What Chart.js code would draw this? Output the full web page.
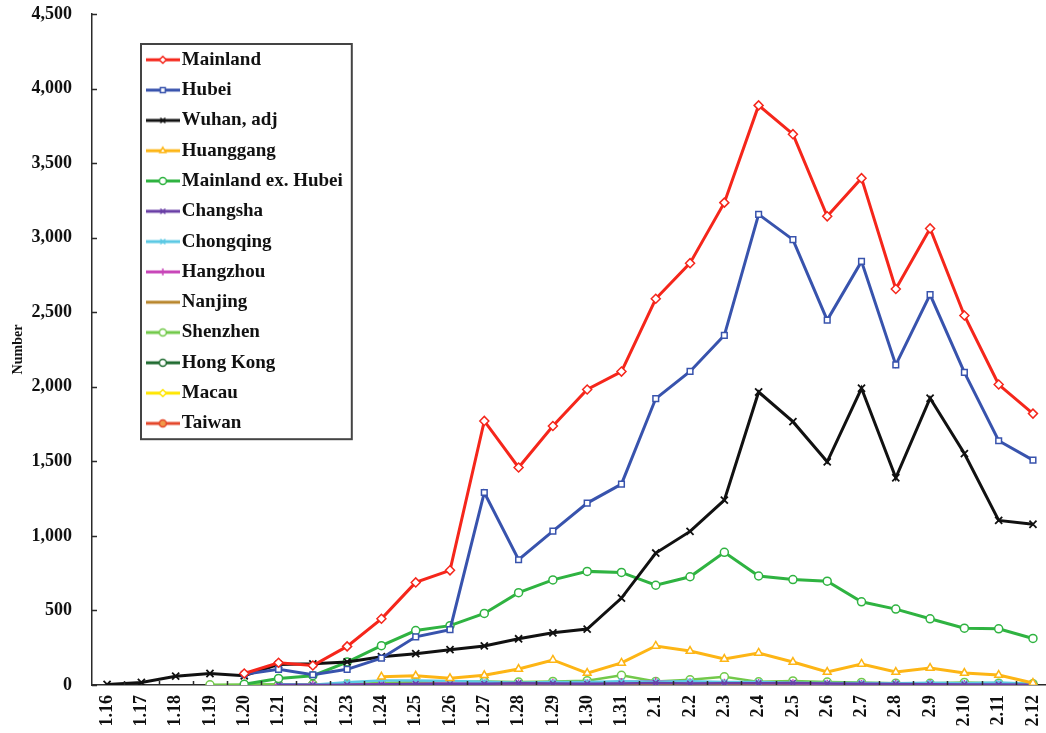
<!DOCTYPE html>
<html>
<head>
<meta charset="utf-8">
<title>Daily new cases</title>
<script src="https://cdn.jsdelivr.net/npm/chart.js"></script>
<style>
  body { margin: 0; background: #fff; overflow: hidden; }
  #chartBox { width: 1046px; height: 733px; }
</style>
</head>
<body>
<div id="chartBox"><canvas id="casesChart" width="1046" height="733"></canvas></div>
<script>
  const dates = ['1.16', '1.17', '1.18', '1.19', '1.20', '1.21', '1.22', '1.23', '1.24', '1.25',
    '1.26', '1.27', '1.28', '1.29', '1.30', '1.31', '2.1', '2.2', '2.3', '2.4', '2.5', '2.6',
    '2.7', '2.8', '2.9', '2.10', '2.11', '2.12'];

  const yTicks = [0, 500, 1000, 1500, 2000, 2500, 3000, 3500, 4000, 4500];

  const mainland = [null, null, null, null, 77, 149, 131, 259, 444, 688, 769, 1771, 1459, 1737,
    1982, 2102, 2590, 2829, 3235, 3887, 3694, 3143, 3399, 2656, 3062, 2478, 2015, 1820];
  const hubei = [null, null, null, null, 72, 105, 69, 105, 180, 323, 371, 1291, 840, 1032,
    1220, 1347, 1921, 2103, 2345, 3156, 2987, 2447, 2841, 2147, 2618, 2097, 1638, 1508];
  const wuhanAdj = [4, 17, 59, 77, 62, 138, 142, 155, 190, 210, 237, 262, 310, 350,
    375, 583, 885, 1030, 1240, 1965, 1766, 1497, 1990, 1390, 1923, 1552, 1104, 1078];
  const huanggang = [null, null, null, null, null, null, null, null, 55, 62, 45, 65, 107, 168,
    80, 148, 262, 228, 174, 215, 154, 87, 141, 87, 114, 80, 67, 13];
  const mainlandExHubei = [null, null, null, null, 5, 44, 62, 154, 264, 365, 398, 480, 619, 705,
    762, 755, 669, 726, 890, 731, 707, 696, 558, 509, 444, 381, 377, 312];
  const changsha = [null, null, null, null, null, 1, 0, 1, 3, 7, 6, 8, 12, 10,
    8, 10, 14, 10, 11, 12, 14, 10, 8, 6, 5, 4, 3, 2];
  const chongqing = [null, null, null, null, null, 5, 1, 18, 30, 30, 27, 22, 15, 20,
    20, 25, 22, 25, 20, 20, 15, 13, 14, 12, 15, 12, 16, 8];
  const hangzhou = [null, null, null, null, null, 2, 3, 2, 5, 6, 12, 10, 12, 15,
    12, 20, 25, 18, 15, 13, 12, 8, 7, 10, 6, 6, 4, 3];
  const nanjing = [null, null, null, null, null, null, 0, 1, 2, 2, 3, 4, 2, 3,
    3, 4, 6, 5, 8, 6, 5, 4, 4, 3, 2, 2, 2, 1];
  const shenzhen = [null, null, null, 1, 4, 5, 5, 6, 13, 20, 20, 24, 20, 24,
    29, 65, 24, 35, 55, 21, 27, 20, 17, 12, 11, 17, 12, 9];
  const hongKong = [null, null, null, null, null, null, 1, 1, 3, 0, 1, 2, 0, 0,
    2, 2, 0, 0, 1, 3, 3, 3, 1, 1, 0, 0, 1, 0];
  const macau = [null, null, null, null, null, null, 1, 1, 0, 0, 0, 0, 0, 0,
    0, 0, 1, 1, 1, 0, 0, 0, 0, 0, 0, 0, 0, 0];
  const taiwan = [null, null, null, null, null, null, 1, 0, 0, 0, 0, 0, 1, 1,
    0, 1, 0, 0, 0, 0, 0, 0, 2, 1, 0, 0, 0, 0];

  const SERIF = '"Liberation Serif", "Times New Roman", serif';
  const LEGEND_FONT = 19;

  function series(label, values, color, marker, opts = {}) {
    return {
      label,
      data: values.map((v, i) => ({ x: i, y: v })),
      borderColor: color,
      backgroundColor: color,
      borderWidth: opts.width || 3,
      pointStyle: marker || 'circle',
      pointRadius: marker ? (opts.radius || 4) : 0,
      pointBorderWidth: opts.pointBorder || 1.5,
      pointBackgroundColor: opts.fill || '#ffffff',
      pointBorderColor: color,
      tension: 0,
      spanGaps: false
    };
  }

  const datasets = [
    series('Mainland', mainland, '#f5261b', 'rectRot', { radius: 4.5 }),
    series('Hubei', hubei, '#3853ad', 'rect', { radius: 4 }),
    series('Wuhan, adj', wuhanAdj, '#111111', 'crossRot', { radius: 5, pointBorder: 1.8 }),
    series('Huanggang', huanggang, '#fdb515', 'triangle', { radius: 4.5 }),
    series('Mainland ex. Hubei', mainlandExHubei, '#2fb341', 'circle', { radius: 4 }),
    series('Changsha', changsha, '#6a3fa6', 'crossRot', { width: 2.5 }),
    series('Chongqing', chongqing, '#5cc9e4', 'crossRot', { width: 2.5 }),
    series('Hangzhou', hangzhou, '#c844b8', 'cross', { width: 2.5 }),
    series('Nanjing', nanjing, '#b8862c', null, { width: 2.5 }),
    series('Shenzhen', shenzhen, '#72c94a', 'circle', { width: 2.5 }),
    series('Hong Kong', hongKong, '#1f6b30', 'circle', { width: 2.5 }),
    series('Macau', macau, '#ffe600', 'rectRot', { width: 2.5 }),
    series('Taiwan', taiwan, '#e4472b', 'circle', { width: 2.5, fill: '#f09a4a' })
  ];

  // small line + marker swatch used as the legend symbol
  function legendSwatch(ds) {
    const c = document.createElement('canvas');
    c.width = 34;
    c.height = 14;
    const g = c.getContext('2d');
    g.strokeStyle = ds.borderColor;
    g.lineWidth = 3;
    g.beginPath();
    g.moveTo(0, 7);
    g.lineTo(34, 7);
    g.stroke();
    if (ds.pointRadius > 0) {
      g.fillStyle = ds.pointBackgroundColor;
      g.strokeStyle = ds.borderColor;
      g.lineWidth = 1.5;
      Chart.helpers.drawPoint(g, { pointStyle: ds.pointStyle, radius: 3.5, borderWidth: 1.5, rotation: 0 }, 17, 7);
    }
    return c;
  }
  const swatches = datasets.map(legendSwatch);

  const chartDecor = {
    id: 'chartDecor',
    afterLayout(chart) {
      // legend sits inside the plot, near its top-left corner
      const lg = chart.legend;
      lg.left = chart.chartArea.left + 50;
      lg.top = chart.chartArea.top + 25;
    },
    afterDraw(chart) {
      const { ctx, scales: { x, y } } = chart;
      ctx.save();
      ctx.strokeStyle = '#2a2a2a';
      ctx.lineWidth = 1.5;
      ctx.beginPath();
      y.ticks.forEach(t => {
        const py = Math.round(y.getPixelForValue(t.value)) + 0.5;
        ctx.moveTo(x.left, py);
        ctx.lineTo(x.left + 5, py);
      });
      for (let i = 0; i < dates.length - 1; i++) {
        const px = Math.round(x.getPixelForValue(i + 0.5)) + 0.5;
        ctx.moveTo(px, y.bottom);
        ctx.lineTo(px, y.bottom - 4);
      }
      ctx.stroke();

      // legend frame
      const lg = chart.legend;
      const pad = lg.options.labels.padding;
      ctx.font = `bold ${LEGEND_FONT}px ${SERIF}`;
      const maxText = Math.max(...lg.legendItems.map(it => ctx.measureText(it.text).width));
      const x0 = lg.left - 1;
      const x1 = lg.left + pad + lg.options.labels.pointStyleWidth + LEGEND_FONT / 2 + maxText + 9;
      const y0 = lg.top + 5;
      const y1 = lg.top + pad + lg.legendItems.length * (LEGEND_FONT + pad) - 5;
      ctx.strokeStyle = '#444';
      ctx.lineWidth = 2;
      ctx.strokeRect(x0, y0, x1 - x0, y1 - y0);
      ctx.restore();
    }
  };

  new Chart(document.getElementById('casesChart'), {
    type: 'line',
    data: { datasets },
    options: {
      responsive: false,
      animation: false,
      devicePixelRatio: 1,
      layout: { autoPadding: false, padding: { top: 14, left: 0, right: 0, bottom: 0 } },
      plugins: {
        legend: {
          position: 'chartArea',
          align: 'start',
          labels: {
            usePointStyle: true,
            pointStyleWidth: 19,
            padding: 11.3,
            color: '#111',
            font: { family: SERIF, weight: 'bold', size: LEGEND_FONT },
            generateLabels(chart) {
              const items = Chart.defaults.plugins.legend.labels.generateLabels(chart);
              return items.map(it => ({ ...it, pointStyle: swatches[it.datasetIndex] }));
            }
          }
        },
        tooltip: { enabled: false }
      },
      scales: {
        x: {
          type: 'linear',
          min: -0.44,
          max: 27.38,
          grid: { display: false, drawTicks: false },
          border: { display: true, color: '#2a2a2a', width: 1.5 },
          afterBuildTicks(scale) {
            scale.ticks = dates.map((_, i) => ({ value: i }));
          },
          afterFit(scale) {
            scale.height = 48;
            scale.paddingRight = 0;
            scale.paddingLeft = 0;
          },
          ticks: {
            autoSkip: false,
            maxRotation: 90,
            minRotation: 90,
            padding: 10,
            color: '#111',
            font: { family: SERIF, weight: 'bold', size: 18 },
            callback: v => dates[v]
          }
        },
        y: {
          min: 0,
          max: 4500,
          grid: { display: false, drawTicks: false },
          border: { display: true, color: '#2a2a2a', width: 1.5 },
          afterBuildTicks(scale) {
            scale.ticks = yTicks.map(v => ({ value: v }));
          },
          afterFit(scale) {
            scale.width = 92;
            scale.paddingTop = 0;
            scale.paddingBottom = 0;
          },
          ticks: {
            padding: 20,
            color: '#111',
            font: { family: SERIF, weight: 'bold', size: 18 },
            callback: v => v.toLocaleString('en-US')
          },
          title: {
            display: true,
            text: 'Number',
            color: '#111',
            font: { family: SERIF, weight: 'bold', size: 14 },
            padding: { top: 10, bottom: 0 }
          }
        }
      }
    },
    plugins: [chartDecor]
  });
</script>
</body>
</html>
